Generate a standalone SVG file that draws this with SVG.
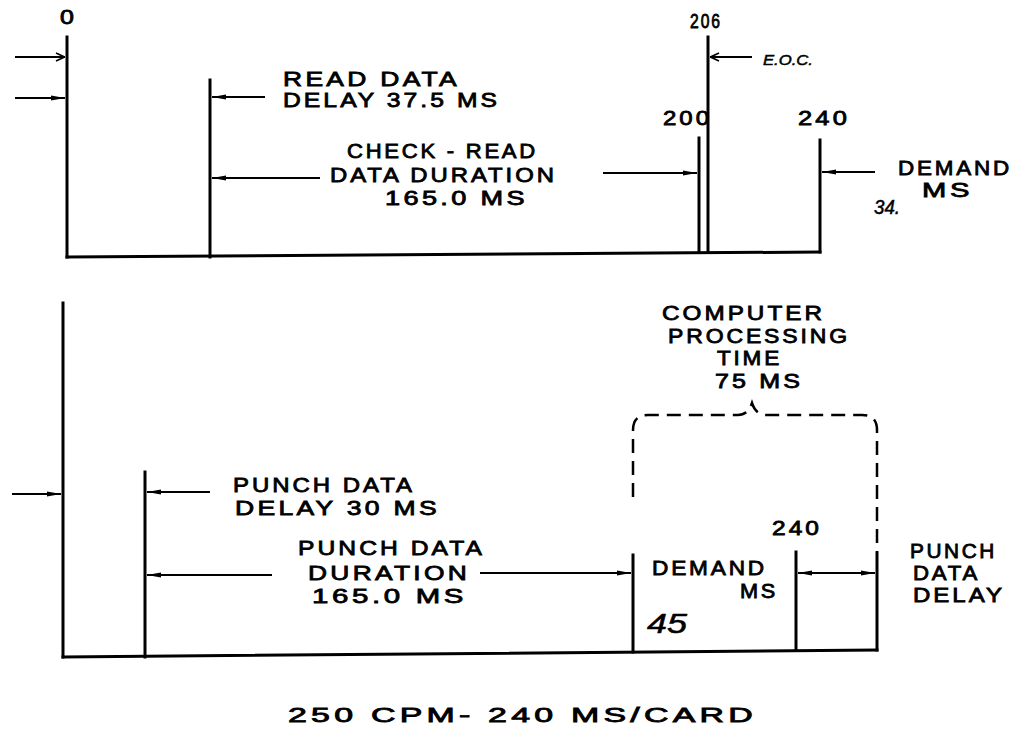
<svg xmlns="http://www.w3.org/2000/svg" width="1023" height="744" viewBox="0 0 1023 744">
<defs>
<style>
.t{font-family:"Liberation Sans",Arial,sans-serif;font-size:20px;letter-spacing:2.5px;fill:#000;stroke:#000;stroke-width:0.8;}
.h{font-family:"Liberation Sans",Arial,sans-serif;font-style:italic;fill:#000;stroke:#000;stroke-width:0.5;}
.v{stroke:#000;stroke-width:3;fill:none;stroke-linecap:square;}
.c{stroke:#000;stroke-width:2;fill:none;}
.d{stroke:#000;stroke-width:2.5;fill:none;stroke-dasharray:14 8;}
</style>
<marker id="fa" viewBox="0 0 14 6" refX="14" refY="3" markerWidth="14" markerHeight="6" markerUnits="userSpaceOnUse" orient="auto-start-reverse">
<path d="M0,0.6 L14,3 L0,5.4 z" fill="#000"/>
</marker>
<marker id="oa" viewBox="0 0 10 10" refX="10" refY="5" markerWidth="10" markerHeight="10" markerUnits="userSpaceOnUse" orient="auto">
<path d="M1,1 L9.5,5 L1,9" fill="none" stroke="#000" stroke-width="1.6"/>
</marker>
</defs>
<rect width="1023" height="744" fill="#fff"/>

<g id="top-timeline">
<line class="v" x1="67" y1="37" x2="67" y2="257"/>
<line class="v" x1="210" y1="80" x2="210" y2="257"/>
<line class="v" x1="699" y1="138" x2="699" y2="252"/>
<line class="v" x1="708" y1="37" x2="708" y2="252"/>
<line class="v" x1="820" y1="140" x2="820" y2="252"/>
<line class="v" x1="67" y1="257" x2="820" y2="252"/>
</g>

<g id="top-labels">
<text class="t" x="60" y="24" letter-spacing="0" textLength="17" lengthAdjust="spacingAndGlyphs">0</text>
<text class="t" x="283" y="86" textLength="177" lengthAdjust="spacingAndGlyphs">READ DATA</text>
<text class="t" x="283" y="107" textLength="217" lengthAdjust="spacingAndGlyphs">DELAY  37.5 MS</text>
<text class="t" x="347" y="158" textLength="191" lengthAdjust="spacingAndGlyphs">CHECK - READ</text>
<text class="t" x="330" y="182" textLength="227" lengthAdjust="spacingAndGlyphs">DATA DURATION</text>
<text class="t" x="385" y="205" textLength="143" lengthAdjust="spacingAndGlyphs">165.0 MS</text>
<text class="t" x="690" y="28" font-size="12" letter-spacing="0" stroke-width="0.4" textLength="32" lengthAdjust="spacingAndGlyphs">206</text>
<text class="h" x="763" y="65" font-size="15" textLength="50" lengthAdjust="spacingAndGlyphs">E.O.C.</text>
<text class="t" x="663" y="125" textLength="49" lengthAdjust="spacingAndGlyphs">200</text>
<text class="t" x="798" y="125" textLength="52" lengthAdjust="spacingAndGlyphs">240</text>
<text class="t" x="898" y="175" textLength="114" lengthAdjust="spacingAndGlyphs">DEMAND</text>
<text class="t" x="922" y="197" textLength="51" lengthAdjust="spacingAndGlyphs">MS</text>
<text class="h" x="874" y="214" font-size="20" textLength="26" lengthAdjust="spacingAndGlyphs">34.</text>
</g>

<g id="bottom-timeline">
<line class="v" x1="63" y1="303" x2="63" y2="657"/>
<line class="v" x1="145" y1="472" x2="145" y2="657"/>
<line class="v" x1="633" y1="555" x2="633" y2="652"/>
<line class="v" x1="796" y1="552" x2="796" y2="650"/>
<line class="v" x1="877" y1="553" x2="877" y2="650"/>
<line class="v" x1="63" y1="657" x2="877" y2="650"/>
<path id="brace" class="d" d="M633,497 L633,430 Q633,415 648,415 L738,415 Q748,415 752,403 Q756,415 766,415 L862,415 Q877,415 877,430 L877,552"/>
</g>

<g id="bottom-labels">
<text class="t" x="662" y="320" textLength="163" lengthAdjust="spacingAndGlyphs">COMPUTER</text>
<text class="t" x="668" y="343" textLength="182" lengthAdjust="spacingAndGlyphs">PROCESSING</text>
<text class="t" x="717" y="365" textLength="65" lengthAdjust="spacingAndGlyphs">TIME</text>
<text class="t" x="715" y="388" textLength="88" lengthAdjust="spacingAndGlyphs">75 MS</text>
<text class="t" x="233" y="492" textLength="182" lengthAdjust="spacingAndGlyphs">PUNCH DATA</text>
<text class="t" x="235" y="515" textLength="205" lengthAdjust="spacingAndGlyphs">DELAY  30 MS</text>
<text class="t" x="298" y="555" textLength="187" lengthAdjust="spacingAndGlyphs">PUNCH DATA</text>
<text class="t" x="308" y="580" textLength="162" lengthAdjust="spacingAndGlyphs">DURATION</text>
<text class="t" x="312" y="603" textLength="155" lengthAdjust="spacingAndGlyphs">165.0 MS</text>
<text class="t" x="652" y="575" textLength="115" lengthAdjust="spacingAndGlyphs">DEMAND</text>
<text class="t" x="740" y="598" textLength="38" lengthAdjust="spacingAndGlyphs">MS</text>
<text class="h" x="647" y="633" font-size="27" textLength="40" lengthAdjust="spacingAndGlyphs">45</text>
<text class="t" x="772" y="535" textLength="50" lengthAdjust="spacingAndGlyphs">240</text>
<text class="t" x="910" y="558" textLength="87" lengthAdjust="spacingAndGlyphs">PUNCH</text>
<text class="t" x="913" y="580" textLength="67" lengthAdjust="spacingAndGlyphs">DATA</text>
<text class="t" x="913" y="602" textLength="92" lengthAdjust="spacingAndGlyphs">DELAY</text>
</g>

<g id="title">
<text class="t" x="288" y="722" font-size="24" letter-spacing="4" textLength="469" lengthAdjust="spacingAndGlyphs">250 CPM- 240 MS/CARD</text>
</g>

<g id="connectors">
<line class="c" x1="15" y1="57" x2="65" y2="57" marker-end="url(#oa)"/>
<line class="c" x1="15" y1="98" x2="65" y2="98" marker-end="url(#fa)"/>
<line class="c" x1="265" y1="97" x2="212" y2="97" marker-end="url(#fa)"/>
<line class="c" x1="320" y1="178" x2="212" y2="178" marker-end="url(#fa)"/>
<line class="c" x1="603" y1="173" x2="697" y2="173" marker-end="url(#fa)"/>
<line class="c" x1="752" y1="57" x2="710" y2="57" marker-end="url(#oa)"/>
<line class="c" x1="875" y1="172" x2="822" y2="172" marker-end="url(#fa)"/>
<line class="c" x1="12" y1="494" x2="61" y2="494" marker-end="url(#fa)"/>
<line class="c" x1="210" y1="492" x2="147" y2="492" marker-end="url(#fa)"/>
<line class="c" x1="272" y1="575" x2="147" y2="575" marker-end="url(#fa)"/>
<line class="c" x1="480" y1="573" x2="631" y2="573" marker-end="url(#fa)"/>
<line class="c" x1="798" y1="573" x2="875" y2="573" marker-start="url(#fa)" marker-end="url(#fa)"/>
</g>
</svg>
